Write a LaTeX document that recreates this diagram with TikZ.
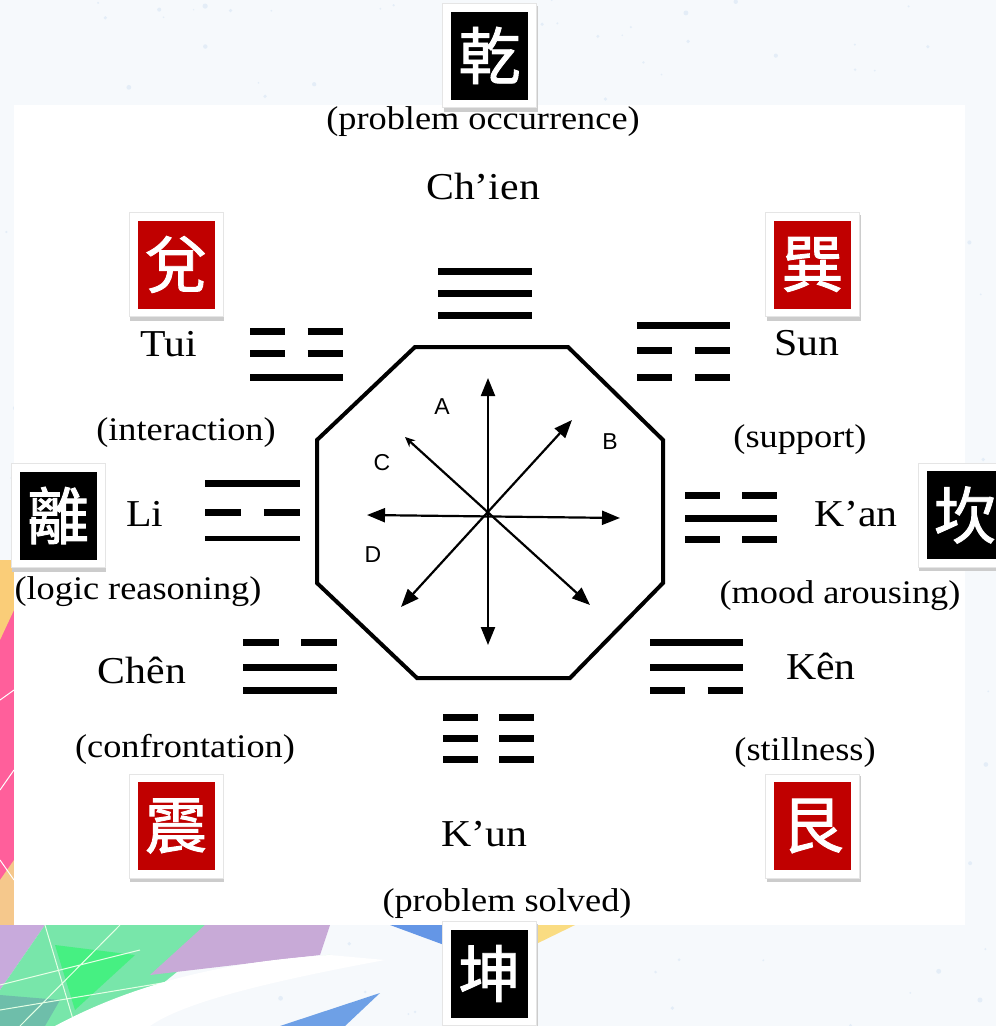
\documentclass[tikz,border=0pt]{standalone}
\usepackage{fontspec}
\setmainfont{Liberation Serif}[FakeStretch=1.1]
\newfontfamily\cjk{Noto Sans CJK TC}[FakeBold=1.5]
\newfontfamily\sansabc{Liberation Sans}
\usetikzlibrary{arrows.meta}
\definecolor{guared}{RGB}{192,0,0}
\definecolor{bgc}{RGB}{246,249,252}
\definecolor{speck}{RGB}{175,205,235}
\definecolor{cpink}{RGB}{255,95,155}
\definecolor{cyel}{RGB}{250,205,120}
\definecolor{cyel2}{RGB}{245,200,140}
\definecolor{clil}{RGB}{200,170,220}
\definecolor{cgreen}{RGB}{120,230,170}
\definecolor{cgreen2}{RGB}{70,240,130}
\definecolor{cteal}{RGB}{110,190,170}
\definecolor{clil2}{RGB}{200,170,215}
\definecolor{cblue}{RGB}{110,160,230}
\definecolor{cblue2}{RGB}{100,150,230}
\definecolor{cyel3}{RGB}{250,220,130}
\tikzset{
  gua/.style={line width=7pt, line cap=butt},
  namelbl/.style={inner sep=0pt, font=\fontsize{38}{42}\selectfont},
  meanlbl/.style={inner sep=0pt, font=\fontsize{33}{36}\selectfont},
  abclbl/.style={inner sep=0pt, font=\sansabc\fontsize{23}{23}\selectfont},
  cjkchar/.style={inner sep=0pt, minimum width=77pt, minimum height=88pt, text=white,
    font=\cjk\fontsize{62}{62}\selectfont},
  arr/.style={line width=2.2pt, {Triangle[length=18pt,width=14pt]}-{Triangle[length=18pt,width=14pt]}},
}
% #1 name, #2 x, #3 y (centre), #4 colour, #5 character
\newcommand\guabox[5]{%
  \fill[black!20] ({#2-46},{#3-50}) rectangle ({#2+48},{#3+56});
  \filldraw[fill=white, draw=black!10, line width=0.6pt] ({#2-47},{#3-52}) rectangle ({#2+47},{#3+52});
  \node[cjkchar, fill=#4] (#1) at (#2,#3) {#5};
}
% yang line: x1, x2, y
\newcommand\yangl[3]{\draw[gua] (#1,#3) -- (#2,#3);}
% yin line: x1, x2, y
\newcommand\yinl[3]{\draw[gua] (#1,#3) -- ({#1+0.38*(#2-#1)},#3);
  \draw[gua] ({#2-0.38*(#2-#1)},#3) -- (#2,#3);}
\begin{document}
\begin{tikzpicture}[x=1pt,y=-1pt]
\useasboundingbox (0,0) rectangle (996,1026);
\clip (0,0) rectangle (996,1026);
\fill[bgc] (0,0) rectangle (996,1026);
% faint speckles
\pgfmathsetseed{11}
\foreach \i in {1,...,260}{
  \pgfmathsetmacro\sx{rnd*996}\pgfmathsetmacro\sy{rnd*1026}\pgfmathsetmacro\sr{0.8+rnd*1.8}
  \fill[speck, opacity=0.25] (\sx,\sy) circle (\sr);
}
% colourful shapes, lower left
\fill[cpink] (0,560) rectangle (14,925);
\fill[cyel] (0,560) -- (14,560) -- (14,610) -- (0,640) -- cycle;
\fill[cyel2] (0,880) -- (14,860) -- (14,925) -- (0,925) -- cycle;
\draw[white, line width=1pt] (0,700) -- (14,690) (0,790) -- (14,770) (0,860) -- (14,880);
\fill[clil] (0,925) -- (45,925) -- (0,990) -- cycle;
\fill[cgreen] (45,925) -- (235,925) -- (110,1026) -- (0,1026) -- (0,990) -- cycle;
\fill[cgreen2] (55,945) -- (135,955) -- (75,1010) -- cycle;
\fill[cteal] (0,995) -- (60,1000) -- (45,1026) -- (0,1026) -- cycle;
\fill[clil2] (205,925) -- (330,925) -- (320,955) -- (150,975) -- cycle;
\draw[white!90!green, line width=1pt] (45,925) -- (75,1026) (0,985) -- (140,950) (120,925) -- (20,1026) (0,1010) -- (330,955);
\fill[white] (55,1026) .. controls (150,975) and (250,960) .. (330,955) -- (385,960) .. controls (250,985) and (180,1005) .. (150,1026) -- cycle;
\fill[cblue] (280,1026) -- (380,993) -- (345,1026) -- cycle;
\fill[cblue2] (390,925) -- (447,925) -- (447,946) -- cycle;
\fill[cyel3] (534,925) -- (575,925) -- (534,945) -- cycle;
% white panel
\fill[white] (14,105) rectangle (965,925);

% character boxes
\guabox{qianc}{489.5}{55.5}{black}{乾}
\guabox{duic}{176}{264.5}{guared}{兌}
\guabox{xunc}{812.5}{264.5}{guared}{巽}
\guabox{lic}{58}{515.5}{black}{離}
\guabox{kanc}{965}{515}{black}{坎}
\guabox{zhenc}{176}{826}{guared}{震}
\guabox{genc}{812.5}{826}{guared}{艮}
\guabox{kunc}{489.5}{973.5}{black}{坤}

% labels
\node[meanlbl] (qianm) at (483,122) {(problem occurrence)};
\node[namelbl] (qiann) at (483,186) {Ch’ien};
\node[namelbl] (duin) at (169,344) {Tui};
\node[meanlbl] (duim) at (186,433) {(interaction)};
\node[namelbl] (lin) at (145,514) {Li};
\node[meanlbl] (lim) at (138,592) {(logic reasoning)};
\node[namelbl] (zhenn) at (142,670) {Chên};
\node[meanlbl] (zhenm) at (185,749) {(confrontation)};
\node[namelbl] (kunn) at (484,834) {K’un};
\node[meanlbl] (kunm) at (507,904) {(problem solved)};
\node[namelbl] (xunn) at (807,343) {Sun};
\node[meanlbl] (xunm) at (800,440) {(support)};
\node[namelbl] (kann) at (856,514) {K’an};
\node[meanlbl] (kanm) at (840,596) {(mood arousing)};
\node[namelbl] (genn) at (821,666) {Kên};
\node[meanlbl] (genm) at (805,753) {(stillness)};

% trigrams
\yangl{438}{532}{271}\yangl{438}{532}{293}\yangl{438}{532}{315}% Ch'ien
\yinl{250}{343}{331}\yinl{250}{343}{353}\yangl{250}{343}{377}% Tui
\yangl{205}{300}{483}\yinl{205}{300}{512}\draw[line width=5pt] (205,538) -- (300,538);% Li
\yinl{243}{337}{642}\yangl{243}{337}{667}\yangl{243}{337}{690}% Chen
\yinl{443}{534}{717}\yinl{443}{534}{738}\yinl{443}{534}{759}% K'un
\yangl{650}{743}{642}\yangl{650}{743}{667}\yinl{650}{743}{690}% Ken
\yinl{685}{777}{495}\yangl{685}{777}{518}\yinl{685}{777}{539}% K'an
\yangl{637}{730}{325}\yinl{637}{730}{350}\yinl{637}{730}{377}% Sun

% octagon
\draw[line width=4pt, line join=miter] (415,347) -- (568,347) -- (663,440) -- (663,583)
  -- (570,678) -- (417,678) -- (317,583) -- (317,440) -- cycle;

% arrows
\coordinate (tN) at (488,378);
\coordinate (tS) at (488,645);
\coordinate (tW) at (367,515);
\coordinate (tE) at (620,518);
\coordinate (tNE) at (572,420);
\coordinate (tSW) at (401,607);
\coordinate (tNW) at (405,437);
\coordinate (tSE) at (590,605);
\draw[arr] (tS) -- (tN);
\draw[arr] (tW) -- (tE);
\draw[arr] (tSW) -- (tNE);
\draw[line width=2.2pt, {Stealth[length=10pt,width=9pt]}-{Triangle[length=18pt,width=14pt]}] (tNW) -- (tSE);

\node[abclbl] (la) at (442,407) {A};
\node[abclbl] (lb) at (610,442) {B};
\node[abclbl] (lc) at (382,463) {C};
\node[abclbl] (ld) at (373,555) {D};
\end{tikzpicture}
\end{document}
